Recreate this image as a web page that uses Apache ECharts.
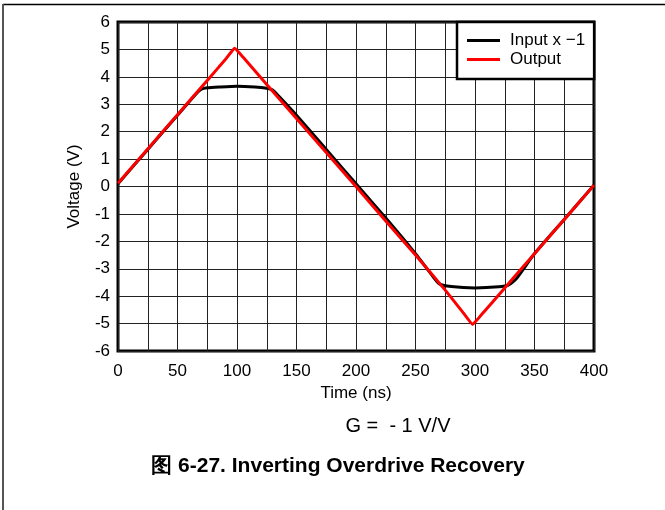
<!DOCTYPE html>
<html>
<head>
<meta charset="utf-8">
<script src="https://cdn.jsdelivr.net/npm/echarts@6/dist/echarts.min.js"></script>
<style>
html,body{margin:0;padding:0;background:#fff;}
#c{width:665px;height:510px;}
</style>
</head>
<body>
<div id="c"></div>
<script>
// Data
var inputTime  = [0, 25, 50, 65, 70, 75, 85, 100, 115, 125, 130, 135, 150, 175, 200, 225, 250, 265, 270, 280, 300, 320, 328, 335, 350, 375, 400];
var inputVals  = [0.1, 1.35, 2.6, 3.35, 3.55, 3.6, 3.63, 3.66, 3.63, 3.58, 3.52, 3.3, 2.6, 1.35, 0.1, -1.15, -2.45, -3.3, -3.55, -3.65, -3.7, -3.66, -3.6, -3.35, -2.45, -1.2, 0.05];
var outputTime = [0, 25, 50, 75, 90, 98, 105, 125, 150, 175, 200, 225, 250, 275, 290, 298, 305, 325, 350, 375, 400];
var outputVals = [0.12, 1.37, 2.62, 3.87, 4.62, 5.04, 4.72, 3.72, 2.48, 1.24, 0.0, -1.26, -2.5, -3.78, -4.6, -5.03, -4.7, -3.7, -2.45, -1.2, 0.05];
var seriesNames = ['Input x \u22121', 'Output'];
var xTicks = {min: 0, max: 400, step: 25, labelStep: 50};
var yTicks = {min: -6, max: 6, step: 1};
var xName = 'Time (ns)';
var yName = 'Voltage (V)';
var gainText = 'G =  - 1 V/V';
var captionText = '图 6-27. Inverting Overdrive Recovery';

function pairs(t, v){ return t.map(function(x,i){ return [x, v[i]]; }); }

var font = 'Arial, "Liberation Sans", sans-serif';
var chart = echarts.init(document.getElementById('c'));
chart.setOption({
  animation: false,
  backgroundColor: '#fff',
  textStyle: {fontFamily: font},
  grid: {left: 118, right: 71, top: 22, bottom: 159, show: true, borderColor: '#000', borderWidth: 3, containLabel: false},
  legend: {
    left: 457, top: 22, orient: 'vertical',
    backgroundColor: '#fff', borderColor: '#000', borderWidth: 2.5,
    padding: [10, 9, 11, 10], itemGap: 2, itemWidth: 33, itemHeight: 3,
    icon: 'rect',
    textStyle: {fontFamily: font, fontSize: 17, lineHeight: 17, color: '#000', padding: [0,0,0,5]},
    data: seriesNames
  },
  xAxis: {
    type: 'value', min: xTicks.min, max: xTicks.max, interval: xTicks.step,
    name: xName, nameLocation: 'middle', nameGap: 31,
    nameTextStyle: {fontFamily: font, fontSize: 17, color: '#000'},
    axisLine: {show: false}, axisTick: {show: false},
    axisLabel: {fontFamily: font, fontSize: 17, color: '#000', margin: 12,
      formatter: function(v){ return v % xTicks.labelStep === 0 ? String(v) : ''; }},
    splitLine: {show: true, lineStyle: {color: '#222', width: 1}}
  },
  yAxis: {
    type: 'value', min: yTicks.min, max: yTicks.max, interval: yTicks.step,
    name: yName, nameLocation: 'middle', nameGap: 35, nameRotate: 90,
    nameTextStyle: {fontFamily: font, fontSize: 17, color: '#000'},
    axisLine: {show: false}, axisTick: {show: false},
    axisLabel: {fontFamily: font, fontSize: 17, color: '#000', margin: 8},
    splitLine: {show: true, lineStyle: {color: '#222', width: 1}}
  },
  series: [
    {name: seriesNames[0], type: 'line', data: pairs(inputTime, inputVals), showSymbol: false, smooth: 0.2,
     lineStyle: {color: '#000', width: 3}, itemStyle: {color: '#000'}},
    {name: seriesNames[1], type: 'line', data: pairs(outputTime, outputVals), showSymbol: false, smooth: 0.1,
     lineStyle: {color: '#ff0000', width: 3}, itemStyle: {color: '#ff0000'}}
  ],
  graphic: [
    {type: 'line', shape: {x1: 3, y1: 4.5, x2: 665, y2: 4.5}, style: {stroke: '#000', lineWidth: 1.5}},
    {type: 'line', shape: {x1: 3, y1: 4, x2: 3, y2: 510}, style: {stroke: '#555', lineWidth: 2}},
    {type: 'text', x: 398, y: 426, style: {text: gainText, font: '20px ' + font, fill: '#000', align: 'center', verticalAlign: 'middle'}},
    {type: 'text', x: 338, y: 466, style: {text: captionText, font: 'bold 21px ' + font, fill: '#000', align: 'center', verticalAlign: 'middle'}}
  ]
});
</script>
</body>
</html>
